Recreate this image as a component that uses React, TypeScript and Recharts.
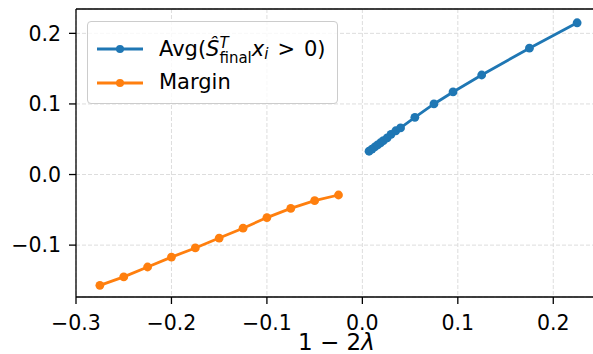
import React from "react";
import {
  CartesianGrid,
  Line,
  LineChart,
  ReferenceLine,
  XAxis,
  YAxis,
} from "recharts";

const avgX = [0.007, 0.01, 0.013, 0.016, 0.019, 0.022, 0.026, 0.03, 0.035, 0.04, 0.055, 0.075, 0.095, 0.125, 0.175, 0.225];
const avgY = [0.033, 0.036, 0.039, 0.042, 0.045, 0.048, 0.052, 0.057, 0.062, 0.066, 0.081, 0.1, 0.117, 0.141, 0.179, 0.215];
const marginX = [-0.275, -0.25, -0.225, -0.2, -0.175, -0.15, -0.125, -0.1, -0.075, -0.05, -0.025];
const marginY = [-0.157, -0.145, -0.131, -0.117, -0.104, -0.09, -0.076, -0.061, -0.048, -0.037, -0.029];

const xTicks = [-0.3, -0.2, -0.1, 0, 0.1, 0.2];
const yTicks = [-0.1, 0, 0.1, 0.2];
const X_DOMAIN: [number, number] = [-0.3, 0.25];
const Y_DOMAIN: [number, number] = [-0.1735, 0.2345];

const BLUE = "#1f77b4";
const ORANGE = "#ff7f0e";
const FONT = "'DejaVu Sans', sans-serif";

const avgData = avgX.map((x, i) => ({ x, y: avgY[i] }));
const marginData = marginX.map((x, i) => ({ x, y: marginY[i] }));

const fmt = (v: number) => {
  const s = Math.abs(v).toFixed(1);
  return v < -1e-9 ? `\u2212${s}` : s;
};

const XLabel = (props: any) => {
  const vb = props.viewBox || {};
  const cx = vb.x + vb.width / 2;
  return (
    <text x={cx - 2} y={350} textAnchor="middle" fontSize={23} fontFamily={FONT} fill="#000">
      <tspan>1 − 2</tspan>
      <tspan fontStyle="italic">λ</tspan>
    </text>
  );
};

const LegendSwatch = ({ color }: { color: string }) => (
  <svg width={48} height={10} style={{ display: "block" }}>
    <line x1={1} y1={5} x2={47} y2={5} stroke={color} strokeWidth={2.8} />
    <circle cx={24} cy={5} r={4} fill={color} />
  </svg>
);

const ChartLegend = () => (
  <div
    style={{
      position: "absolute",
      left: 87,
      top: 21,
      width: 249,
      height: 81,
      border: "1px solid #cccccc",
      borderRadius: 4,
      background: "rgba(255,255,255,0.8)",
      fontFamily: FONT,
      fontSize: 21,
      color: "#000",
    }}
  >
    <div style={{ position: "absolute", left: 8, top: 22 }}>
      <LegendSwatch color={BLUE} />
    </div>
    <div
      style={{
        position: "absolute",
        left: 71,
        top: 10,
        whiteSpace: "nowrap",
        display: "flex",
        alignItems: "center",
        height: 34,
      }}
    >
      <span>Avg(</span>
      <span style={{ fontStyle: "italic" }}>Ŝ</span>
      <span
        style={{
          display: "inline-flex",
          flexDirection: "column",
          fontSize: 15,
          lineHeight: "15px",
          marginTop: 3,
        }}
      >
        <span style={{ fontStyle: "italic" }}>T</span>
        <span>final</span>
      </span>
      <span style={{ fontStyle: "italic" }}>x</span>
      <span style={{ fontStyle: "italic", fontSize: 15, alignSelf: "flex-end", marginBottom: 3 }}>i</span>
      <span style={{ marginLeft: 9 }}>&gt;</span>
      <span style={{ marginLeft: 9 }}>0)</span>
    </div>
    <div style={{ position: "absolute", left: 71, top: 48, whiteSpace: "nowrap", lineHeight: "24px" }}>Margin</div>
    <div style={{ position: "absolute", left: 8, top: 56 }}>
      <LegendSwatch color={ORANGE} />
    </div>
  </div>
);

export default function App() {
  return (
    <div
      style={{
        position: "absolute",
        left: 0,
        top: 0,
        width: 593,
        height: 354,
        overflow: "hidden",
        background: "#fff",
      }}
    >
      <LineChart
        width={610}
        height={354}
        margin={{ top: 9, right: 9, left: 0, bottom: 0 }}
        style={{ fontFamily: FONT }}
      >
        <CartesianGrid stroke="#dddddd" strokeDasharray="4 2" />
        <XAxis
          type="number"
          dataKey="x"
          domain={X_DOMAIN}
          ticks={xTicks}
          tickFormatter={fmt}
          allowDataOverflow
          height={57}
          tickSize={7}
          tickMargin={11}
          axisLine={{ stroke: "#000", strokeWidth: 1.3 }}
          tickLine={{ stroke: "#000", strokeWidth: 1.3 }}
          tick={{ fill: "#000", fontSize: 20.5, fontFamily: FONT }}
          label={<XLabel />}
        />
        <YAxis
          type="number"
          dataKey="y"
          domain={Y_DOMAIN}
          ticks={yTicks}
          tickFormatter={fmt}
          allowDataOverflow
          width={76}
          tickSize={7}
          tickMargin={8}
          axisLine={{ stroke: "#000", strokeWidth: 1.3 }}
          tickLine={{ stroke: "#000", strokeWidth: 1.3 }}
          tick={{ fill: "#000", fontSize: 20.5, fontFamily: FONT }}
        />
        <ReferenceLine y={Y_DOMAIN[1]} stroke="#000" strokeWidth={1.3} />
        <ReferenceLine x={X_DOMAIN[1]} stroke="#000" strokeWidth={1.3} />
        <Line
          data={marginData}
          dataKey="y"
          stroke={ORANGE}
          strokeWidth={2.8}
          dot={{ r: 4.4, fill: ORANGE, stroke: ORANGE, strokeWidth: 0 }}
          isAnimationActive={false}
        />
        <Line
          data={avgData}
          dataKey="y"
          stroke={BLUE}
          strokeWidth={2.8}
          dot={{ r: 4.4, fill: BLUE, stroke: BLUE, strokeWidth: 0 }}
          isAnimationActive={false}
        />
      </LineChart>
      <ChartLegend />
    </div>
  );
}
